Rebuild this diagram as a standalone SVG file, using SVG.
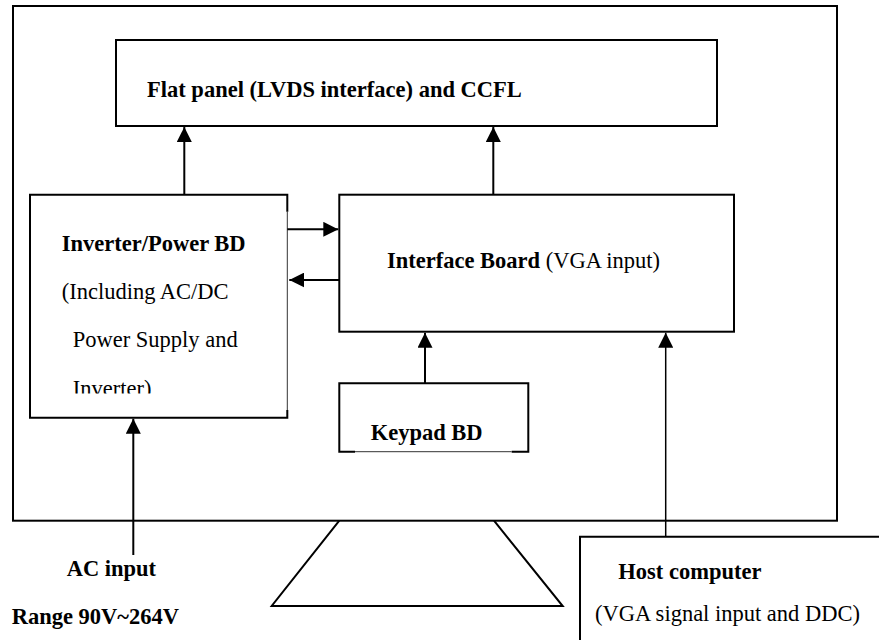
<svg xmlns="http://www.w3.org/2000/svg" width="879" height="640" viewBox="0 0 879 640">
<style>
.box{fill:none;stroke:#000;stroke-width:2}
.thin{fill:none;stroke:#333;stroke-width:1}
.ln{fill:none;stroke:#000;stroke-width:2}
text,tspan{font-family:'Liberation Serif','Times New Roman',Tinos,'DejaVu Serif',serif;font-size:22.5px;fill:#000}
.b{font-weight:bold}
.r{font-weight:normal}
</style>
<defs>
<marker id="ah" viewBox="0 0 10 10" refX="10" refY="5" markerWidth="15" markerHeight="15" markerUnits="userSpaceOnUse" orient="auto">
<path d="M0,0 L10,5 L0,10 Z" fill="#000"/>
</marker>
<clipPath id="clipInv"><rect x="30" y="190" width="258" height="203.5"/></clipPath>
</defs>
<rect width="879" height="640" fill="#fff"/>

<g id="monitor">
<rect class="box" x="13" y="6" width="824" height="514.7"/>
</g>

<g id="stand">
<polyline class="ln" points="339.3,520.7 271.7,606 562.7,606 494,520.7"/>
</g>

<g id="flatpanel">
<rect class="box" x="116" y="40" width="601" height="86"/>
<text class="b" x="147" y="97">Flat panel (LVDS interface) and CCFL</text>
</g>

<g id="inverter">
<path class="box" d="M287.3,211.7 V194.7 H30 V417.7 H287.3 V410"/>
<line class="thin" x1="287.3" y1="211.7" x2="287.3" y2="410"/>
<text class="b" x="61.7" y="251">Inverter/Power BD</text>
<text class="r" x="61.7" y="299">(Including AC/DC</text>
<text class="r" x="72.7" y="347">Power Supply and</text>
<text class="r" x="72.7" y="395.5" clip-path="url(#clipInv)">Inverter)</text>
</g>

<g id="interface">
<rect class="box" x="339.3" y="194.7" width="394.7" height="137"/>
<text x="387" y="268.3"><tspan class="b">Interface Board</tspan><tspan class="r"> (VGA input)</tspan></text>
</g>

<g id="keypad">
<path class="box" d="M355,451.7 H339.3 V383.3 H528.3 V451.7 H511.7"/>
<line class="thin" x1="355" y1="451.7" x2="511.7" y2="451.7"/>
<text class="b" x="370.7" y="440">Keypad BD</text>
</g>

<g id="host">
<path class="box" d="M580,640 V536.7 H879"/>
<text class="b" x="618.3" y="579">Host computer</text>
<text class="r" x="595" y="621">(VGA signal input and DDC)</text>
</g>

<g id="acinput">
<text class="b" x="66.7" y="576">AC input</text>
<text class="b" x="11.7" y="624">Range 90V~264V</text>
</g>

<g id="connectors">
<line class="ln" x1="184.3" y1="194.7" x2="184.3" y2="127" marker-end="url(#ah)"/>
<line class="ln" x1="493.3" y1="194.7" x2="493.3" y2="127" marker-end="url(#ah)"/>
<line class="ln" x1="287.3" y1="229.3" x2="338.3" y2="229.3" marker-end="url(#ah)"/>
<line class="ln" x1="339.3" y1="280" x2="289.3" y2="280" marker-end="url(#ah)"/>
<line class="ln" x1="425" y1="383.3" x2="425" y2="332.7" marker-end="url(#ah)"/>
<line class="ln" x1="665.7" y1="536.7" x2="665.7" y2="332.7" marker-end="url(#ah)" style="stroke-width:1.5"/>
<line class="ln" x1="133.3" y1="555" x2="133.3" y2="418.7" marker-end="url(#ah)"/>
</g>
</svg>
